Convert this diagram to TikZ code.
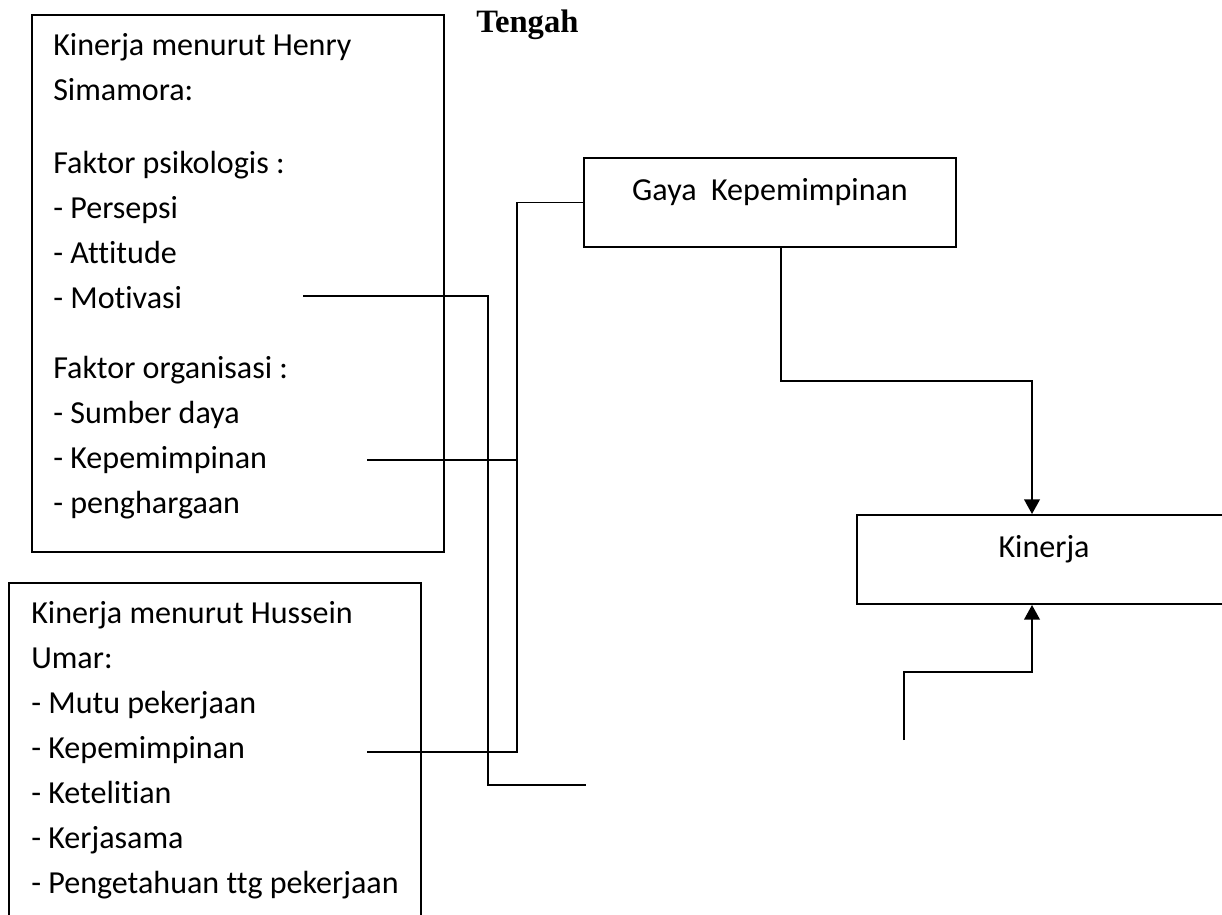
\documentclass[tikz,border=0pt]{standalone}
\usepackage{fontspec}
\setmainfont[Ligatures=NoCommon]{Carlito}
\newfontfamily\headfont{Liberation Serif}
\usetikzlibrary{arrows.meta}

\begin{document}
\begin{tikzpicture}[x=0.025cm, y=-0.025cm,
    panel/.style={draw, line width=1.3pt, inner sep=0pt},
    varbox/.style={panel, text height=0.5cm, text depth=0.625cm,
      font=\fontsize{22.8}{27}\selectfont},
    entry/.style={anchor=base west, inner sep=0pt, font=\fontsize{22.8}{27}\selectfont},
    link/.style={draw, line width=1.3pt},
    flow/.style={draw, line width=1.9pt, -{Triangle[length=10.5pt, width=11pt]}}]
  \useasboundingbox (0,0) rectangle (1222,914);
  \clip (0,0) rectangle (1222,914);

  % the two source boxes
  \node[panel, minimum width=10.3cm, minimum height=13.425cm] (henry) at (238,283.5) {};
  \node[panel, minimum width=10.3cm, minimum height=8.925cm] (hussein) at (215,761.5) {};
  \foreach \yy/\txt [count=\i] in {55/Kinerja menurut Henry, 100/Simamora:,
      173/Faktor psikologis :, 218/- Persepsi, 263/- Attitude, 308/- Motivasi,
      378/Faktor organisasi :, 423/- Sumber daya, 468/- Kepemimpinan, 513/- penghargaan}
    \node[entry] (h\i) at (53,\yy) {\txt};
  \foreach \yy/\txt [count=\i] in {623/Kinerja menurut Hussein, 668/Umar:,
      713/- Mutu pekerjaan, 758/- Kepemimpinan, 803/- Ketelitian, 848/- Kerjasama,
      893/- Pengetahuan ttg pekerjaan}
    \node[entry] (u\i) at (31,\yy) {\txt};

  \node[anchor=base west, inner sep=0pt, font=\headfont\bfseries\fontsize{23.2}{28}\selectfont]
    (tengah) at (476,32) {Tengah};

  % variables
  \node[varbox, minimum width=9.3cm, minimum height=2.225cm] (gaya) at (770,202.5) {Gaya~~Kepemimpinan};
  \node[varbox, minimum width=9.35cm, minimum height=2.225cm] (kinerja) at (1044,559.5) {Kinerja};

  % connectors
  \coordinate (hmot) at (303,296);
  \coordinate (hkep) at (367,460);
  \coordinate (ukep) at (367,752);
  \coordinate (lowend) at (586,785);
  \coordinate (gout) at (781,247);
  \coordinate (gin) at (1032,381);
  \coordinate (loose) at (904,740);
  \coordinate (bend) at (1032,672);

  \draw[link] (gaya.west) -- ++(-66,0) |- (ukep);
  \draw[link] (hkep) -- ++(151,0);
  \draw[link] (hmot) -- ++(185,0) |- (lowend);
  \draw[flow] (gaya.south -| gout) |- (gin) -- (kinerja.north -| gin);
  \draw[flow] (loose) |- (bend) -- (kinerja.south -| bend);
\end{tikzpicture}
\end{document}
